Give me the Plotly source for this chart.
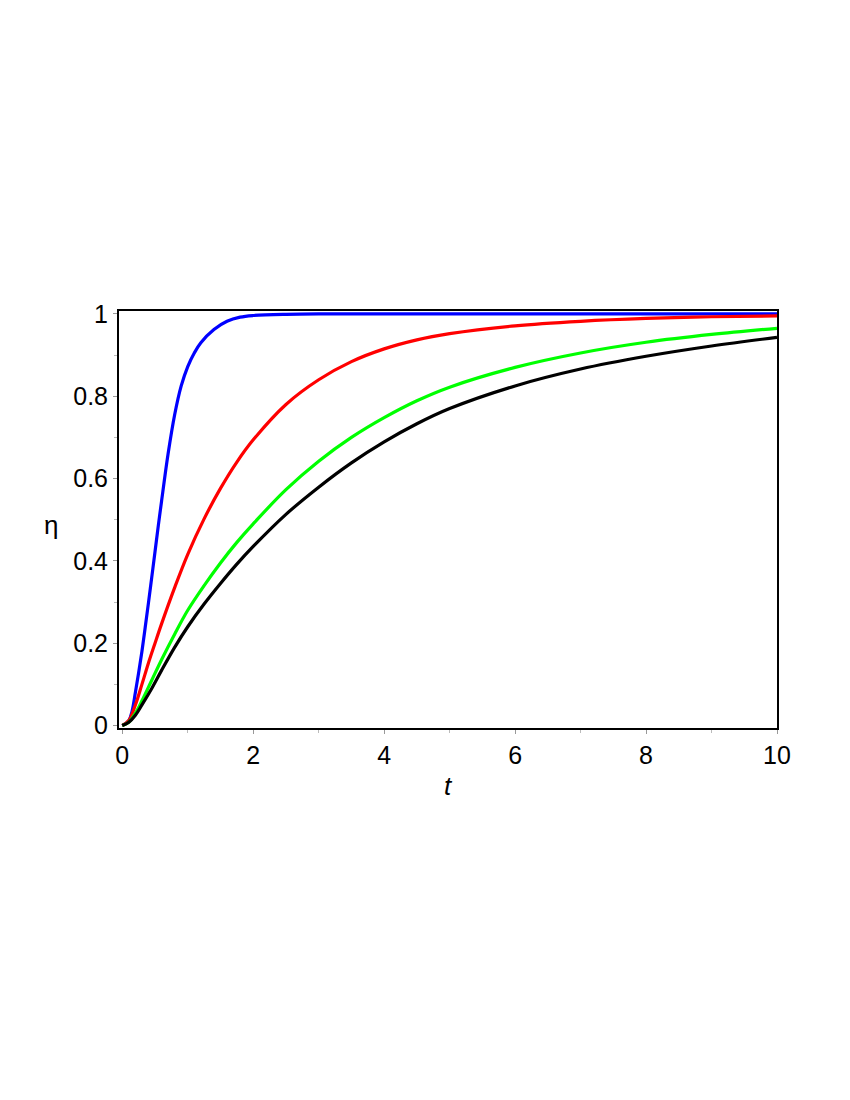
import plotly.graph_objects as go

# values
t_blue = [0, 0.1, 0.15, 0.2, 0.25, 0.3, 0.35, 0.4, 0.45, 0.5, 0.55, 0.6, 0.7, 0.8, 0.9, 1.0,
          1.1, 1.2, 1.4, 1.6, 1.8, 2.0, 2.5, 3, 4, 6, 8, 10]
eta_blue = [0, 0.012, 0.035, 0.08, 0.128, 0.18, 0.238, 0.298, 0.36, 0.422, 0.485, 0.545, 0.66,
            0.755, 0.825, 0.872, 0.905, 0.93, 0.962, 0.982, 0.992, 0.996, 0.999, 1, 1, 1, 1, 1]

t_red = [0, 0.1, 0.2, 0.3, 0.4, 0.5, 0.6, 0.8, 1.0, 1.25, 1.5, 1.75, 2.0, 2.5, 3.0, 3.5,
         4.0, 4.5, 5.0, 6.0, 7.0, 8.0, 9.0, 10]
eta_red = [0, 0.012, 0.05, 0.1, 0.152, 0.2, 0.247, 0.335, 0.416, 0.502, 0.576, 0.64, 0.694,
           0.78, 0.84, 0.884, 0.915, 0.937, 0.952, 0.971, 0.982, 0.989, 0.993, 0.995]

t_green = [0, 0.1, 0.2, 0.3, 0.45, 0.6, 0.8, 1.0, 1.25, 1.5, 1.75, 2.0, 2.5, 3.0, 3.5, 4.0,
           4.5, 5.0, 6.0, 7.0, 8.0, 9.0, 10]
eta_green = [0, 0.008, 0.03, 0.06, 0.11, 0.16, 0.222, 0.28, 0.34, 0.395, 0.445, 0.49,
             0.573, 0.642, 0.70, 0.748, 0.789, 0.822, 0.87, 0.905, 0.931, 0.95, 0.965]

t_black = [0, 0.1, 0.2, 0.3, 0.45, 0.6, 0.8, 1.0, 1.25, 1.5, 1.75, 2.0, 2.5, 3.0, 3.5, 4.0,
           4.5, 5.0, 6.0, 7.0, 8.0, 9.0, 10]
eta_black = [0, 0.008, 0.025, 0.05, 0.09, 0.134, 0.19, 0.24, 0.295, 0.345, 0.392, 0.435,
             0.513, 0.579, 0.638, 0.689, 0.733, 0.77, 0.825, 0.866, 0.897, 0.922, 0.943]

x_ticks = [0, 2, 4, 6, 8, 10]
y_ticks = [0, 0.2, 0.4, 0.6, 0.8, 1]
y_labels = ["0", "0.2", "0.4", "0.6", "0.8", "1"]

series = [
    (t_blue, eta_blue, "#0000ff"),
    (t_red, eta_red, "#ff0000"),
    (t_green, eta_green, "#00ff00"),
    (t_black, eta_black, "#000000"),
]

fig = go.Figure()
for tt, ee, col in series:
    fig.add_trace(go.Scatter(x=tt, y=ee, mode="lines",
                             line=dict(color=col, width=3.2, shape="spline", smoothing=1.0),
                             showlegend=False))

axis_common = dict(
    showgrid=False, zeroline=False,
    showline=True, linecolor="black", linewidth=2, mirror=True,
    ticks="outside", ticklen=4, tickwidth=1, tickcolor="#999999",
    tickfont=dict(family="Liberation Sans, Arial", size=25, color="black"),
)

fig.update_xaxes(range=[-0.05, 10.0], tickvals=x_ticks,
                 minor=dict(dtick=1, ticks="outside", ticklen=3, tickcolor="#bbbbbb"),
                 **axis_common)
fig.update_yaxes(range=[-0.006, 1.007], tickvals=y_ticks, ticktext=y_labels,
                 minor=dict(dtick=0.1, ticks="outside", ticklen=3, tickcolor="#bbbbbb"),
                 **axis_common)

fig.add_annotation(text="<i>t</i>", xref="paper", yref="paper", x=0.5, y=-0.139,
                   xanchor="center", yanchor="middle", showarrow=False,
                   font=dict(family="Liberation Sans, Arial", size=26, color="black"))
fig.add_annotation(text="η", xref="paper", yref="paper", x=-0.103, y=0.487,
                   xanchor="center", yanchor="middle", showarrow=False,
                   font=dict(family="Liberation Sans, Arial", size=26, color="black"))

# page body has an 8px margin, so shift the plot box up/left to match
fig.update_layout(
    width=850, height=1100,
    margin=dict(l=111, r=81, t=303, b=380),
    paper_bgcolor="white", plot_bgcolor="white",
)

fig.write_html("out.html")
